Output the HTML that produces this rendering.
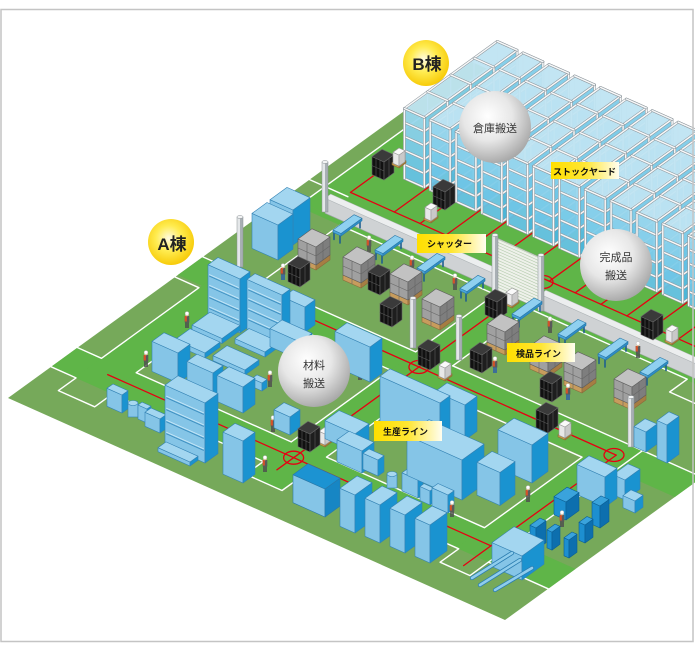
<!DOCTYPE html>
<html><head><meta charset="utf-8">
<style>
html,body{margin:0;padding:0;background:#fff;width:695px;height:651px;overflow:hidden}
svg{display:block}
text{font-family:"Liberation Sans","Noto Sans CJK JP",sans-serif}
</style></head><body>
<svg id="svg" width="695" height="651" viewBox="0 0 695 651" xmlns="http://www.w3.org/2000/svg">
<defs>
<radialGradient id="sph" cx="0.4" cy="0.35" r="0.68"><stop offset="0" stop-color="#ffffff"/><stop offset="0.5" stop-color="#e7e7e7"/><stop offset="1" stop-color="#a6a6a6"/></radialGradient>
<radialGradient id="yel" cx="0.45" cy="0.42" r="0.62"><stop offset="0" stop-color="#fffbe2"/><stop offset="0.45" stop-color="#ffec50"/><stop offset="1" stop-color="#f6c700"/></radialGradient>
<linearGradient id="tag" x1="0" x2="1" y1="0" y2="0"><stop offset="0" stop-color="#ffdf00"/><stop offset="0.5" stop-color="#ffe633"/><stop offset="1" stop-color="#fffef0"/></linearGradient>
</defs>
<g id="g"></g>
<g>
<circle cx="495" cy="127" r="36" fill="url(#sph)"/>
<text x="495" y="132" font-size="11" text-anchor="middle" fill="#333">倉庫搬送</text>
<circle cx="616" cy="265" r="36" fill="url(#sph)"/>
<text x="616" y="261" font-size="11" text-anchor="middle" fill="#333">完成品</text>
<text x="616" y="279" font-size="11" text-anchor="middle" fill="#333">搬送</text>
<circle cx="314" cy="371" r="36" fill="url(#sph)"/>
<text x="314" y="369" font-size="11" text-anchor="middle" fill="#333">材料</text>
<text x="314" y="387" font-size="11" text-anchor="middle" fill="#333">搬送</text>

<circle cx="171" cy="242" r="23" fill="url(#yel)"/>
<text x="172" y="250" font-size="17" font-weight="bold" text-anchor="middle" fill="#222">A棟</text>
<circle cx="426" cy="63" r="23" fill="url(#yel)"/>
<text x="427" y="70" font-size="17" font-weight="bold" text-anchor="middle" fill="#222">B棟</text>

<rect x="551" y="162" width="68" height="17" fill="url(#tag)"/>
<text x="553" y="175" font-size="9" font-weight="bold" fill="#111">ストックヤード</text>
<rect x="417" y="234" width="69" height="19" fill="url(#tag)"/>
<text x="427" y="247" font-size="9" font-weight="bold" fill="#111">シャッター</text>
<rect x="507" y="343" width="68" height="19" fill="url(#tag)"/>
<text x="516" y="357" font-size="9" font-weight="bold" fill="#111">検品ライン</text>
<rect x="374" y="421" width="68" height="20" fill="url(#tag)"/>
<text x="383" y="435" font-size="9" font-weight="bold" fill="#111">生産ライン</text>
</g>
<rect x="1" y="9.5" width="692" height="632" fill="none" stroke="#c4c4c4" stroke-width="1.5"/>
</svg>
<script>
(function(){
var NS='http://www.w3.org/2000/svg';
var G=document.getElementById('g');
function P(u,v,h){return [8+4.97*u+4.64*v,398+2.22*u-3.36*v-(h||0)];}
function f(p){return p[0].toFixed(1)+','+p[1].toFixed(1);}
function el(t,a){var e=document.createElementNS(NS,t);for(var k in a)e.setAttribute(k,a[k]);G.appendChild(e);return e;}
function poly(pts,fill,st,sw,op){var a={points:pts.map(f).join(' '),fill:fill};if(st){a.stroke=st;a['stroke-width']=sw||0.6;a['stroke-linejoin']='round';}if(op!=null)a['fill-opacity']=op;return el('polygon',a);}
function pline(pts,st,sw){return el('polyline',{points:pts.map(f).join(' '),fill:'none',stroke:st,'stroke-width':sw,'stroke-linejoin':'round','stroke-linecap':'round'});}
function U(a){return a.map(function(q){return P(q[0],q[1],q[2]||0);});}
function rUV(u0,v0,u1,v1){return U([[u0,v0],[u1,v0],[u1,v1],[u0,v1]]);}

/* floor */
poly(U([[0,0],[100,0],[100,100],[0,100]]),'#76a95a');
var BR='#5fb548';
[[0,9.3,100,15.2],[0,36.6,100,42],[42.8,5.5,49.8,60.1],[4.8,9.3,11.6,42],[81.6,9.3,88,42.5],[42.8,42,100,42.5],[0,59.1,100,60.1],[3.1,60.1,100,100]].forEach(function(r){poly(rUV(r[0],r[1],r[2],r[3]),BR);});

/* white lines */
function wl(a){pline(U(a),'#ffffff',1.4);}
function wr(u0,v0,u1,v1){wl([[u0,v0],[u1,v0],[u1,v1],[u0,v1],[u0,v0]]);}
wr(11.6,15.2,42.8,36.6);wr(49.8,15.3,81.6,36.3);wr(11.6,42,42.8,59.1);
wl([[49.8,42.5],[49.8,59.3],[81.3,59.3],[81.3,55.5],[100,55.5]]);
wl([[49.8,42.5],[100,42.5]]);
wl([[88,9.3],[88,42.5]]);
wl([[0,42],[11.6,42]]);
wl([[0,15],[4.8,15],[4.8,36],[0,36]]);
wl([[0,9.3],[5,9.3],[5,5.5],[12.3,5.5],[12.3,9.3],[42.7,9.3],[42.7,5.5],[50,5.5],[50,9.3],[82,9.3],[82,5.3],[88,5.3],[88,9.3],[100,9.3]]);
wl([[3.1,60.1],[3.1,100]]);
wl([[0,65],[7.7,65]]);

/* red lines */
var R='#e60012';
function rl(a){pline(U(a),R,1.3);}
rl([[8.4,12.5],[85.5,12.5]]);rl([[85.5,6.6],[85.5,39.5]]);rl([[12,39.5],[85.5,39.5]]);
rl([[45.8,8.9],[45.8,66]]);
rl([[7.3,66],[100,66]]);rl([[7.3,66],[7.3,76.6]]);
for(var k=0;k<13;k++){var uu=16.1+5.2*k;rl([[uu,66],[uu,76]]);}
[[293.6,457.7],[418.9,367],[543,282],[614,455]].forEach(function(c){el('ellipse',{cx:c[0],cy:c[1],rx:10,ry:6.5,fill:'none',stroke:R,'stroke-width':1.3});});

/* racks */
var GL=['#4cb6df','#56bbe1','#61c0e4','#6ec5e6','#80cce9'];
var GE=['#66c2e5','#70c6e7','#7bcbe9','#88d0eb','#98d6ed'];
function fl(a){pline(a,'#8d969c',2.6);pline(a,'#f7f8f9',1.5);}
function rack(u0){
 var d=4.0,v0=73,v1=93,H=70,n=5,uf=u0+d,i;
 var pv=[73,78,83,88,93];
 pv.forEach(function(v){pline([P(u0,v,0),P(u0,v,H)],'#dfe4e6',1);});
 for(i=0;i<n;i++){var h0=H*i/n,h1=H*(i+1)/n;
  poly([P(uf,v0,h0),P(uf,v1,h0),P(uf,v1,h1),P(uf,v0,h1)],GL[i],null,0,0.95);
  poly([P(u0,v0,h0),P(uf,v0,h0),P(uf,v0,h1),P(u0,v0,h1)],GE[i],null,0,0.95);}
 poly([P(u0,v0,H),P(uf,v0,H),P(uf,v1,H),P(u0,v1,H)],'#bfe4f2',null,0,0.95);
 for(i=0;i<=n;i++){var h=H*i/n;fl([P(u0,v0,h),P(uf,v0,h),P(uf,v1,h)]);}
 pv.forEach(function(v){fl([P(uf,v,0),P(uf,v,H)]);});
 fl([P(u0,v0,0),P(u0,v0,H)]);
 fl([P(u0,v0,H),P(u0,v1,H),P(uf,v1,H)]);
 pv.forEach(function(v){fl([P(u0,v,H),P(uf,v,H)]);});
}
for(k=0;k<13;k++)rack(11.6+5.2*k);

/* generic shapes (screen coords) */
var LB={t:'#a3d6f0',l:'#85c5e7',r:'#1a93d0',s:'#3382b4'};
var DM={t:'#3aa3dc',l:'#1d8fd0',r:'#0d6fae',s:'#0b5f95'};
var DT={t:'#1c93d2',l:'#85c5e7',r:'#1786c4',s:'#2a78a8'};
function box(x,y,Lx,Rx,h,c){c=c||LB;
 var B=[x,y],Lc=[x-Lx,y-0.447*Lx],Rc=[x+Rx,y-0.724*Rx],K=[x-Lx+Rx,y-0.447*Lx-0.724*Rx];
 function up(p){return [p[0],p[1]-h];}
 poly([Lc,B,up(B),up(Lc)],c.l,c.s,0.6);
 poly([B,Rc,up(Rc),up(B)],c.r,c.s,0.6);
 poly([up(Lc),up(B),up(Rc),up(K)],c.t,c.s,0.6);}
function shelf(x,y,Lx,Rx,h,n){box(x,y,Lx,Rx,h,LB);
 for(var i=1;i<n;i++){var hh=h*i/n;
  pline([[x-Lx+1.5,y-0.447*(Lx-1.5)-hh],[x-1.5,y-0.447*1.5-hh]],'#3d8fc0',0.9);
  pline([[x-Lx+1.5,y-0.447*(Lx-1.5)-hh-1.6],[x-1.5,y-0.447*1.5-hh-1.6]],'#cbe9f8',0.8);}}
function cyl(cx,y,r,h){el('rect',{x:cx-r,y:y-h,width:2*r,height:h,fill:'#86c5e7',stroke:'#3382b4','stroke-width':0.6});
 el('ellipse',{cx:cx,cy:y-h,rx:r,ry:r*0.5,fill:'#a8d8f0',stroke:'#3382b4','stroke-width':0.6});}
function pillar(x,yb,h){el('rect',{x:x-3,y:yb-h,width:3,height:h,fill:'#e4e7e9'});
 el('rect',{x:x,y:yb-h,width:3,height:h,fill:'#a8afb4'});
 el('rect',{x:x-3,y:yb-h,width:6,height:h,fill:'none',stroke:'#8a9195','stroke-width':0.5});
 el('ellipse',{cx:x,cy:yb-h,rx:3,ry:1.5,fill:'#f2f3f4',stroke:'#8a9195','stroke-width':0.5});}
function cage(x,y){box(x,y,12,10,18,{t:'#3a3a3a',l:'#111',r:'#1e1e1e',s:'#666'});
 for(var i=1;i<3;i++){var xx=x-12*i/3,yy=y-0.447*12*i/3;pline([[xx,yy],[xx,yy-18]],'#5a5a5a',0.6);}
 pline([[x-12,y-5.4-9],[x,y-9]],'#5a5a5a',0.6);
 pline([[x+5,y-3.6],[x+5,y-3.6-18]],'#5a5a5a',0.6);}
function robot(x,y){box(x,y,7,7,2,{t:'#e0b560',l:'#c99a45',r:'#a87c30',s:'#8a6a3a'});
 box(x,y-2,6,6,11,{t:'#fafafa',l:'#e8e8e8',r:'#c9c9c9',s:'#9a9a9a'});}
function pallet(x,y){box(x,y,18,14,5,{t:'#d9b57a',l:'#c79c5d',r:'#a67d43',s:'#8a6a3a'});
 box(x,y-5,18,14,18,{t:'#c2c2c2',l:'#a0a0a0',r:'#7e7e7e',s:'#5e5e5e'});
 pline([[x-18,y-8-14],[x,y-14],[x+14,y-10.1-14]],'#666',0.6);
 pline([[x-9,y-4],[x-9,y-4-23]],'#666',0.6);
 pline([[x+7,y-5.1-5],[x+7,y-5.1-23]],'#666',0.6);}
function table(x,y,Lx,Rx){var c='#1f5f8f';
 pline([[x-Lx+1,y-0.447*Lx],[x-Lx+1,y-0.447*Lx-7]],c,1.6);
 pline([[x-1,y],[x-1,y-7]],c,1.6);
 pline([[x+Rx-2,y-0.724*Rx],[x+Rx-2,y-0.724*Rx-7]],c,1.6);
 box(x,y-7,Lx,Rx,2.5,{t:'#8fd0f0',l:'#4aa6da',r:'#2e8fc8',s:'#2a78a8'});}
function person(x,y,blue){var body=blue?'#2f5fa8':'#4d4d4d';
 el('rect',{x:x-1.8,y:y-6,width:1.6,height:6,fill:body});el('rect',{x:x+0.2,y:y-6,width:1.6,height:6,fill:body});
 el('rect',{x:x-2.3,y:y-12,width:4.6,height:6.5,fill:'#5a5a5a'});
 el('rect',{x:x-2.3,y:y-12,width:2.2,height:5.5,fill:'#d4522a'});
 el('circle',{cx:x,cy:y-13.6,r:1.9,fill:'#f0c9a0'});
 el('circle',{cx:x,cy:y-14.6,r:1.9,fill:'#fff',stroke:'#999','stroke-width':0.3});}

/* B items */
cage(384,180);robot(399,168);
cage(445,210);robot(431,223);

/* wall */
function wallSeg(ua,ub){var v=60.1,h=15;
 poly([P(ua,v,0),P(ub,v,0),P(ub,v,h),P(ua,v,h)],'#cfd2d4','#9ea4a8',0.6);
 poly([P(ua,v,h),P(ub,v,h),P(ub,v+1.2,h),P(ua,v+1.2,h)],'#eceeef','#b5babd',0.5);}
wallSeg(7.7,42);wallSeg(51,140);
poly([P(42,60.1,0),P(51,60.1,0),P(51,60.1,52),P(42,60.1,52)],'#eef1ea','#9aa39a',0.6);
for(var hh=3;hh<52;hh+=3)pline([P(42,60.1,hh),P(51,60.1,hh)],'#b5cbae',0.6);
pillar(325,212,50);pillar(495,291,56);pillar(541,311,56);

/* A items */
var items=[];
function add(k,fn){items.push({k:k,f:fn});}
function B(x,y,Lx,Rx,h,c){add(y,function(){box(x,y,Lx,Rx,h,c);});}
B(293,245,23,17,35);B(278,260,26,15,35);
add(333,function(){shelf(240,333,32,10,54,5);});
add(345,function(){shelf(282,345,35,8,50,5);});
B(222,343.5,30,18,5);B(205,358,30,15,5);B(245,375,32,14,5);B(265,357,30,14,5);
B(178,383,26,12,30);B(213,397,26,10,24);B(243,413,26,12,26);B(262,391,10,5,8);B(290,435,16,10,18);
B(305,332,22,10,25);B(370,382,35,12,35);B(300,360,30,12,18);
add(463,function(){shelf(205,463,40,13,60,5);});
B(190,466,32,8,4);
B(122,413,15,6,18);add(417,function(){cyl(133,417,5,14);});B(147,423,9,4,14);B(160,433,15,6,14);
B(243,483,20,12,42);
B(465,440,30,12,35);B(440,455,60,10,52);B(462,500,55,22,40);
B(355,452,30,14,18);B(362,473,25,12,22);B(378,476,15,6,16);
add(488,function(){cyl(392,488,5,14);});
B(418,498,16,5,18);B(430,505,10,4,14);B(448,513,16,6,18);
B(532,483,34,16,38);B(500,505.5,23,15,33);
B(325,517,32,15,28,DT);
B(355,533,15,17,38);B(380,543,15,17,38);B(405,553,15,17,38);B(430,563,15,17,38);
B(522,580,30,22,24);
add(590,function(){function fk(a,b){pline([a,b],'#2b7db0',4.2);pline([a,b],'#8fcdec',2.6);}
 fk([512,553],[472,578]);fk([520,560],[480,585]);fk([532,568],[495,590]);});
B(536,550,6,10,22,DM);B(552,550.1,5,8,18,DM);B(569,558,5,8,18,DM);B(585,543,6,8,18,DM);B(600,528,8,9,22,DM);B(566,520,12,13,18,DM);
B(625,500,12,15,20);B(605,507,28,12,30);B(635,513,12,8,12);
B(646,452,12,11,20);B(667,463,10,12,38);
[[341,243,8,21],[383,263,8,20],[425,281,8,20],[467,301,7,18],[520,327,8,22],[566,347,8,20],[606,367,8,22],[648,385,8,20]].forEach(function(t){add(t[1],function(){table(t[0],t[1],t[2],t[3]);});});
[[316,270],[361,288],[408,305],[440,330],[505,355],[548,377],[582,393],[632,410]].forEach(function(p){add(p[1],function(){pallet(p[0],p[1]);});});
[[300,287],[380,295],[392,327],[497,320],[430,370],[482,373],[552,402],[548,433],[653,340],[310,452]].forEach(function(p){add(p[1],function(){cage(p[0],p[1]);});});
[[512,308],[445,381],[565,440],[672,345],[325,447]].forEach(function(p){add(p[1]+0.5,function(){robot(p[0],p[1]);});});
[[283,280,1],[187,328],[146,367],[270,387],[273,432],[265,472],[369,252],[412,272],[360,380],[455,290],[550,333],[638,358],[495,373,1],[568,400,1],[528,502],[452,517],[562,527]].forEach(function(p){add(p[1]+0.3,function(){person(p[0],p[1],p[2]);});});
[[240,267,50],[413,348,50],[459,360,44],[631,447,50]].forEach(function(p){add(p[1],function(){pillar(p[0],p[1],p[2]);});});
items.sort(function(a,b){return a.k-b.k;});
items.forEach(function(it){it.f();});
})();
</script>
</body></html>
